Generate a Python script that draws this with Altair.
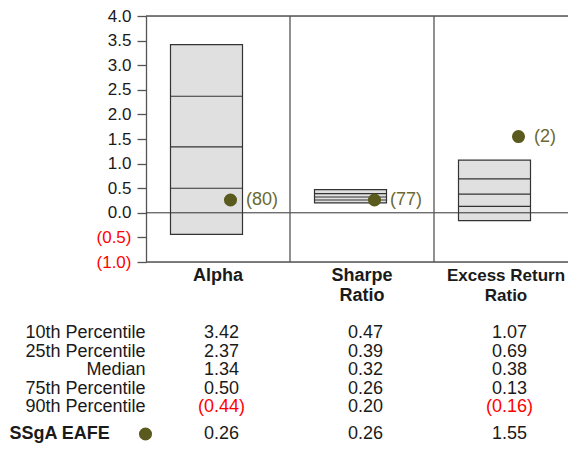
import altair as alt
import pandas as pd

# ---- data ----
metrics = ["Alpha", "Sharpe\nRatio", "Excess Return\nRatio"]
p10 = [3.42, 0.47, 1.07]
p25 = [2.37, 0.39, 0.69]
p50 = [1.34, 0.32, 0.38]
p75 = [0.50, 0.26, 0.13]
p90 = [-0.44, 0.20, -0.16]
fund = [0.26, 0.26, 1.55]
ranks = [80, 77, 2]
row_labels = ["10th Percentile", "25th Percentile", "Median", "75th Percentile", "90th Percentile"]
fund_name = "SSgA EAFE"
y_ticks = [-1.0, -0.5, 0.0, 0.5, 1.0, 1.5, 2.0, 2.5, 3.0, 3.5, 4.0]

# ---- layout ----
PANEL = 144.0
PAD_L = 138
W = 422            # keeps the whole page within 560px so it is not rescaled
H = 246
XMAX = W / PANEL
FONT = "Liberation Sans"
DOT = "#5a591e"
DOT_TXT = "#6a6930"
RED = "#ff0000"
INK = "#1a1a1a"
LINE = "#555555"
TOTAL_H = 436


def fmt(v):
    return f"({abs(v):.2f})" if v < 0 else f"{v:.2f}"


df = pd.DataFrame({
    "idx": list(range(len(metrics))),
    "metric": metrics,
    "p10": p10, "p25": p25, "p50": p50, "p75": p75, "p90": p90,
    "fund": fund,
    "rank": [f"({r})" for r in ranks],
})
df["x0"] = df["idx"] + 24.5 / PANEL
df["x1"] = df["idx"] + 96.5 / PANEL
df["xd"] = df["idx"] + 84.5 / PANEL
df["xc"] = df["idx"] + 0.5
df["xv"] = df["idx"] + 0.5 + 3.5 / PANEL
df["fs"] = [18, 18, 17]

xscale = alt.Scale(domain=[0, XMAX], nice=False, zero=False)
yscale = alt.Scale(domain=[-1, 4], nice=False, zero=False)
yaxis = alt.Axis(
    values=y_ticks, title=None, grid=False,
    labelExpr="datum.value < 0 ? '(' + format(-datum.value, '.1f') + ')' : format(datum.value, '.1f')",
    labelColor={"condition": {"test": "datum.value < 0", "value": RED}, "value": INK},
    labelFont=FONT, labelFontSize=17, labelPadding=6,
    tickSize=9, tickColor=LINE, tickWidth=1.3,
    domainColor=LINE, domainWidth=1.3,
)


def X(f):
    return alt.X(f, scale=xscale, axis=None)


def Y(f):
    return alt.Y(f, scale=yscale, axis=yaxis)


base = alt.Chart(df)

frame_df = pd.DataFrame({"v": [4.0, -1.0], "a": [0.0, 0.0], "b": [XMAX, XMAX]})
frame = alt.Chart(frame_df).mark_rule(color=LINE, strokeWidth=1.3).encode(
    x=X("a:Q"), x2="b:Q", y=Y("v:Q"))

div_df = pd.DataFrame({"d": [1.0, 2.0]})
dividers = alt.Chart(div_df).mark_rule(color=LINE, strokeWidth=1.3).encode(
    x=X("d:Q"), y=alt.value(0), y2=alt.value(H))

zero_df = pd.DataFrame({"v": [0.0], "a": [0.0], "b": [XMAX]})
zero = alt.Chart(zero_df).mark_rule(color="#333333", strokeWidth=1).encode(
    x=X("a:Q"), x2="b:Q", y=Y("v:Q"))

boxes = base.mark_rect(fill="#e0e0e0", stroke="#333333", strokeWidth=1.2).encode(
    x=X("x0:Q"), x2="x1:Q", y=Y("p90:Q"), y2="p10:Q")

inner = []
for f in ["p25", "p50", "p75"]:
    inner.append(base.mark_rule(color="#333333", strokeWidth=1.1).encode(
        x=X("x0:Q"), x2="x1:Q", y=Y(f"{f}:Q")))

dots = base.mark_point(filled=True, shape="circle", size=170, color=DOT, opacity=1).encode(
    x=X("xd:Q"), y=Y("fund:Q"))

dot_labels = base.mark_text(align="left", baseline="middle", dx=15.5, font=FONT,
                            fontSize=18, color=DOT_TXT).encode(
    x=X("xd:Q"), y=Y("fund:Q"), text="rank:N")

cat_labels = base.mark_text(align="center", baseline="alphabetic", font=FONT,
                            fontWeight="bold", color=INK,
                            lineBreak="\n", lineHeight=20).encode(
    x=X("xc:Q"), y=alt.value(265), text="metric:N",
    size=alt.Size("fs:Q", scale=None, legend=None))

# table
rows = []
cols = [p10, p25, p50, p75, p90]
for r, lab in enumerate(row_labels):
    for i in range(len(metrics)):
        v = cols[r][i]
        rows.append({"row": r, "rowlabel": lab, "idx": i, "xv": i + 0.5 + 3.5 / PANEL,
                     "txt": fmt(v), "col": RED if v < 0 else INK})
tdf = pd.DataFrame(rows)
row_y = [322, 340.5, 359, 377.5, 396]
fund_y = 423

table_layers = []
for r in range(len(row_labels)):
    sub = alt.Chart(tdf).transform_filter(f"datum.row == {r}")
    table_layers.append(sub.mark_text(align="center", baseline="alphabetic", font=FONT,
                                      fontSize=18).encode(
        x=X("xv:Q"), y=alt.value(row_y[r]), text="txt:N",
        color=alt.Color("col:N", scale=None)))
    table_layers.append(sub.transform_filter("datum.idx == 0").mark_text(
        align="right", baseline="alphabetic", font=FONT, fontSize=18, color=INK).encode(
        x=alt.value(-0.5), y=alt.value(row_y[r]), text="rowlabel:N"))

fdf = pd.DataFrame({"idx": list(range(len(metrics))),
                    "xv": [i + 0.5 + 3.5 / PANEL for i in range(len(metrics))],
                    "txt": [fmt(v) for v in fund],
                    "col": [RED if v < 0 else INK for v in fund],
                    "name": [fund_name] * len(metrics)})
fund_vals = alt.Chart(fdf).mark_text(align="center", baseline="alphabetic", font=FONT,
                                     fontSize=18).encode(
    x=X("xv:Q"), y=alt.value(fund_y), text="txt:N", color=alt.Color("col:N", scale=None))
fund_name_t = alt.Chart(fdf).transform_filter("datum.idx == 0").mark_text(
    align="left", baseline="alphabetic", font=FONT, fontSize=18, fontWeight="bold",
    color=INK).encode(x=alt.value(-136.5), y=alt.value(fund_y), text="name:N")
fund_dot = alt.Chart(fdf).transform_filter("datum.idx == 0").mark_point(
    filled=True, shape="circle", size=170, color=DOT, opacity=1).encode(
    x=alt.value(-0.5), y=alt.value(fund_y - 5))

chart = alt.layer(
    boxes, *inner, zero, frame, dividers, dots, dot_labels, cat_labels,
    *table_layers, fund_vals, fund_name_t, fund_dot,
).properties(
    width=W, height=H,
    autosize=alt.AutoSizeParams(type="none"),
    padding={"left": PAD_L, "top": 8, "right": 0, "bottom": TOTAL_H - 8 - H},
).configure_view(stroke=None).configure(background="white")

chart.save("out.html", embed_options={"renderer": "svg", "actions": False})
